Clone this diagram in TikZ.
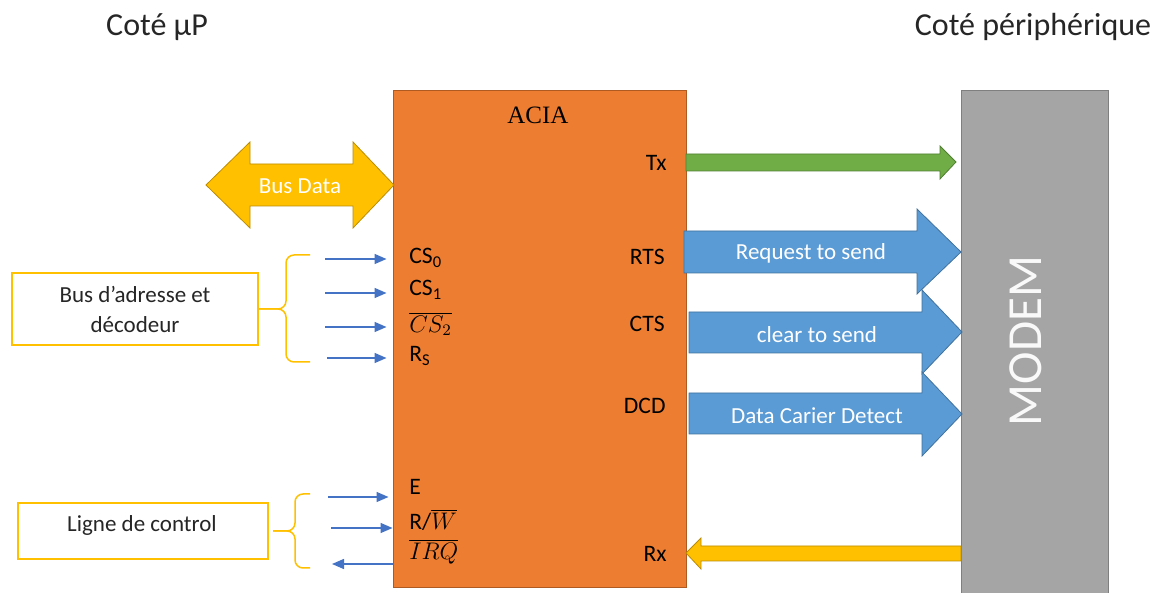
\documentclass[tikz,border=0pt]{standalone}
\usepackage{fontspec}
\setmainfont{Carlito}
\newfontfamily\acfont{Liberation Serif}
\usetikzlibrary{arrows.meta,fit,calc}
\definecolor{corange}{HTML}{ED7D31}
\definecolor{corangeD}{HTML}{AE5A21}
\definecolor{cgray}{HTML}{A5A5A5}
\definecolor{cgrayD}{HTML}{7F7F7F}
\definecolor{cblue}{HTML}{5B9BD5}
\definecolor{cblueD}{HTML}{41719C}
\definecolor{cgreen}{HTML}{70AD47}
\definecolor{cgreenD}{HTML}{507E32}
\definecolor{cyellow}{HTML}{FFC000}
\definecolor{cyellowD}{HTML}{BC8C00}
\definecolor{cline}{HTML}{4472C4}
\definecolor{ctext}{HTML}{262626}
\begin{document}
\begin{tikzpicture}[x=0.5pt,y=-0.5pt,
  pinlbl/.style={font=\fontsize{11.8}{14}\selectfont, text=black, inner sep=0pt},
  toplbl/.style={font=\fontsize{16}{18}\selectfont, text=ctext, inner sep=0pt},
  boxlbl/.style={draw=cyellow, line width=0.75pt, fill=white, inner sep=0pt},
  arrtxt/.style={font=\fontsize{11.5}{14}\selectfont, text=white, inner sep=0pt},
  bluearr/.style={fill=cblue, draw=cblueD, line width=0.4pt},
  brace/.style={draw=cyellow, line width=0.75pt, rounded corners=4pt},
  thinarr/.style={draw=cline, line width=0.7pt, -{Triangle[length=6pt,width=5pt]}}
]
\useasboundingbox (0,0) rectangle (1164,593);

% titles
\node[toplbl] (tleft) at (157,27) {Coté µP};
\node[toplbl] (tright) at (1033,27) {Coté périphérique};

% ACIA block
\node[fit={(393,91)(686,588)}, inner sep=0pt, fill=corange, draw=corangeD, line width=0.5pt] (acia) {};
\node[font=\acfont\fontsize{12.5}{14}\selectfont, inner sep=0pt] (aciat) at (538,115) {ACIA};

% MODEM block
\node[fit={(961,91)(1108,596)}, inner sep=0pt, fill=cgray, draw=cgrayD, line width=0.5pt] (modem) {};
\node[rotate=90, font=\fontsize{24.5}{28}\selectfont, text=white!95!gray, inner sep=0pt] (modemt) at (1026,341) {MODEM};

% Bus Data double arrow
\path[fill=cyellow, draw=cyellowD, line width=0.4pt]
  (206,185) -- (250,142) -- (250,164) -- (353,164) -- (353,142) -- (394,185)
  -- (353,228) -- (353,206) -- (250,206) -- (250,228) -- cycle;
\node[arrtxt] (busdata) at (300,186) {Bus Data};

% Tx arrow
\path[fill=cgreen, draw=cgreenD, line width=0.4pt]
  (686,154) -- (940,154) -- (940,146) -- (956,162) -- (940,179) -- (940,171) -- (686,171) -- cycle;

% RTS / CTS / DCD block arrows
\path[bluearr] (684,231) -- (917,231) -- (917,209) -- (961,252) -- (917,294) -- (917,273) -- (684,273) -- cycle;
\node[arrtxt] (rtsq) at (811,253) {Request to send};
\path[bluearr] (689,312) -- (922,312) -- (922,290) -- (962,332) -- (922,374) -- (922,353) -- (689,353) -- cycle;
\node[arrtxt] (ctsq) at (817,335) {clear to send};
\path[bluearr] (689,393) -- (922,393) -- (922,372) -- (962,414) -- (922,456) -- (922,434) -- (689,434) -- cycle;
\node[arrtxt] (dcdq) at (817,416) {Data Carier Detect};

% Rx arrow
\path[fill=cyellow, draw=cyellowD, line width=0.4pt]
  (961,546) -- (701,546) -- (701,538) -- (686,553) -- (701,569) -- (701,561) -- (961,561) -- cycle;

% pin labels right
\node[pinlbl, anchor=east] (tx) at (667,163) {Tx};
\node[pinlbl, anchor=east] (rts) at (665,257) {RTS};
\node[pinlbl, anchor=east] (cts) at (665,324) {CTS};
\node[pinlbl, anchor=east] (dcd) at (666,406) {DCD};
\node[pinlbl, anchor=east] (rx) at (667,554) {Rx};

% pin labels left
\node[pinlbl, anchor=west] (cs0) at (409,258) {CS\textsubscript{0}};
\node[pinlbl, anchor=west] (cs1) at (409,290) {CS\textsubscript{1}};
\node[pinlbl, anchor=west] (cs2) at (409,324) {$\overline{CS_2}$};
\node[pinlbl, anchor=west] (rs) at (409,356) {R\textsubscript{S}};
\node[pinlbl, anchor=west] (e) at (409,487) {E};
\node[pinlbl, anchor=west] (rw) at (409,520) {R/$\overline{W}$};
\node[pinlbl, anchor=west] (irq) at (409,552) {$\overline{IRQ}$};

% address bus box + brace
\node[boxlbl, fit={(12,273)(258,345)}] (addrbox) {};
\node[font=\fontsize{11.5}{15}\selectfont, text=ctext, align=center, inner sep=0pt] (addrt) at (addrbox.center) {Bus d’adresse et\\décodeur};
\coordinate (b1top) at (310,255);
\coordinate (b1bot) at (310,362);
\path[brace] (b1top) -- (286,255) -- (286,309) -- (addrbox.east |- 0,309);
\path[brace] (addrbox.east |- 0,309) -- (286,309) -- (286,362) -- (b1bot);

\coordinate (s0) at (325,259);
\coordinate (s1) at (325,293);
\coordinate (s2) at (325,327);
\coordinate (s3) at (327,358);
\draw[thinarr, shorten >=3pt] (s0) -- (s0 -| acia.west);
\draw[thinarr, shorten >=3pt] (s1) -- (s1 -| acia.west);
\draw[thinarr, shorten >=3pt] (s2) -- (s2 -| acia.west);
\draw[thinarr, shorten >=3pt] (s3) -- (s3 -| acia.west);

% control line box + brace
\node[boxlbl, fit={(18,503)(268,559)}] (ctrlbox) {};
\node[font=\fontsize{11.5}{15}\selectfont, text=ctext, inner sep=0pt] (ctrlt) at (142,525) {Ligne de control};
\coordinate (b2top) at (310,494);
\coordinate (b2bot) at (310,568);
\path[brace] (b2top) -- (295,494) -- (295,531) -- (273,531);
\path[brace] (273,531) -- (295,531) -- (295,568) -- (b2bot);

\coordinate (c0) at (328,497);
\coordinate (c1) at (331,528);
\coordinate (c2) at (332,564);
\draw[thinarr, shorten >=2pt] (c0) -- (c0 -| acia.west);
\draw[thinarr] (c1) -- (c1 -| acia.west);
\draw[thinarr] (c2 -| acia.west) -- (c2);
\end{tikzpicture}
\end{document}
